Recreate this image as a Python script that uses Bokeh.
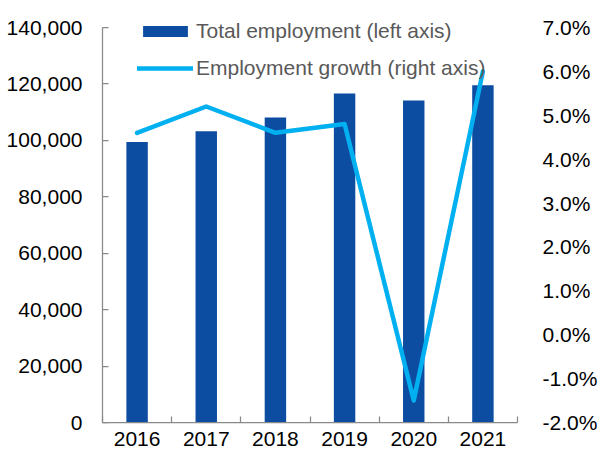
from bokeh.plotting import figure
from bokeh.models import (Range1d, LinearAxis, FixedTicker,
                          NumeralTickFormatter, PrintfTickFormatter, Legend, LegendItem,
                          ColumnDataSource)
from bokeh.embed import file_html
from bokeh.resources import INLINE

years = ["2016", "2017", "2018", "2019", "2020", "2021"]
employment = [99400, 103200, 108100, 116600, 114100, 119500]
growth_pct = [4.6, 5.2, 4.6, 4.8, -1.5, 6.0]
left_ticks = [0, 20000, 40000, 60000, 80000, 100000, 120000, 140000]
right_ticks = [-2, -1, 0, 1, 2, 3, 4, 5, 6, 7]

BAR = "#0D4DA1"
LINE = "#00B0F0"
AXIS = "#898989"
FONT = "Liberation Sans"
FS = "21px"

# layout: frame extends 20px above the top tick so the legend is not clipped
H, TOP, BOTTOM = 455, 7, 33
frame_h = H - TOP - BOTTOM
axis_h = frame_h - 20
stretch = frame_h / axis_h
lmin, lmax = left_ticks[0], left_ticks[-1]
rmin, rmax = right_ticks[0], right_ticks[-1]

idx = list(range(len(years)))
src = ColumnDataSource(dict(x=idx, year=years, emp=employment, g=growth_pct))

p = figure(width=600, height=H, output_backend="svg", toolbar_location=None,
           x_range=Range1d(-0.5, len(years) - 0.5),
           y_range=Range1d(lmin, lmin + (lmax - lmin) * stretch),
           min_border_left=102, min_border_right=76, min_border_top=TOP, min_border_bottom=BOTTOM,
           x_axis_type=None, y_axis_type=None)
p.outline_line_color = None
p.xgrid.visible = False
p.ygrid.visible = False
p.background_fill_color = "white"
p.border_fill_color = "white"
p.extra_y_ranges = {"pct": Range1d(rmin, rmin + (rmax - rmin) * stretch)}

bars = p.vbar(x="x", top="emp", width=0.31, source=src, fill_color=BAR, line_color=None)
line = p.line(x="x", y="g", source=src, y_range_name="pct", line_color=LINE,
              line_width=4.5, line_join="round", line_cap="round")

# bottom axis
xaxis = LinearAxis(ticker=FixedTicker(ticks=idx, minor_ticks=[i - 0.5 for i in range(len(years) + 1)]))
xaxis.major_label_overrides = {i: y for i, y in zip(idx, years)}
xaxis.major_tick_in = 0
xaxis.major_tick_out = 0
xaxis.minor_tick_in = 6
xaxis.minor_tick_out = 0
xaxis.minor_tick_line_color = AXIS
xaxis.minor_tick_line_width = 1.25
xaxis.axis_line_color = AXIS
xaxis.axis_line_width = 1.25
xaxis.major_label_standoff = 9
xaxis.major_label_text_font = FONT
xaxis.major_label_text_font_size = FS
xaxis.major_label_text_color = "black"
p.add_layout(xaxis, "below")

# left axis
yaxis = LinearAxis(ticker=FixedTicker(ticks=left_ticks),
                   formatter=NumeralTickFormatter(format="0,0"), bounds=(lmin, lmax))
yaxis.major_tick_in = 6
yaxis.major_tick_out = 0
yaxis.minor_tick_line_color = None
yaxis.major_tick_line_color = AXIS
yaxis.major_tick_line_width = 1.25
yaxis.axis_line_color = AXIS
yaxis.axis_line_width = 1.25
yaxis.major_label_standoff = 20
yaxis.major_label_text_font = FONT
yaxis.major_label_text_font_size = FS
yaxis.major_label_text_color = "black"
p.add_layout(yaxis, "left")

# right axis
raxis = LinearAxis(y_range_name="pct", ticker=FixedTicker(ticks=right_ticks),
                   formatter=PrintfTickFormatter(format="%.1f%%"), bounds=(rmin, rmax))
raxis.axis_line_color = None
raxis.major_tick_line_color = None
raxis.minor_tick_line_color = None
raxis.major_label_standoff = 19
raxis.major_label_text_font = FONT
raxis.major_label_text_font_size = FS
raxis.major_label_text_color = "black"
p.add_layout(raxis, "right")

legend = Legend(items=[LegendItem(label="Total employment (left axis)", renderers=[bars]),
                       LegendItem(label="Employment growth (right axis)", renderers=[line])],
                location=(35, 342), orientation="vertical",
                border_line_color=None, background_fill_alpha=0,
                padding=0, margin=0, spacing=13,
                glyph_width=56, glyph_height=14, label_height=24, label_standoff=3,
                label_text_font=FONT, label_text_font_size=FS, label_text_color="#595959")
p.add_layout(legend)

open("out.html", "w").write(file_html(p, INLINE))
